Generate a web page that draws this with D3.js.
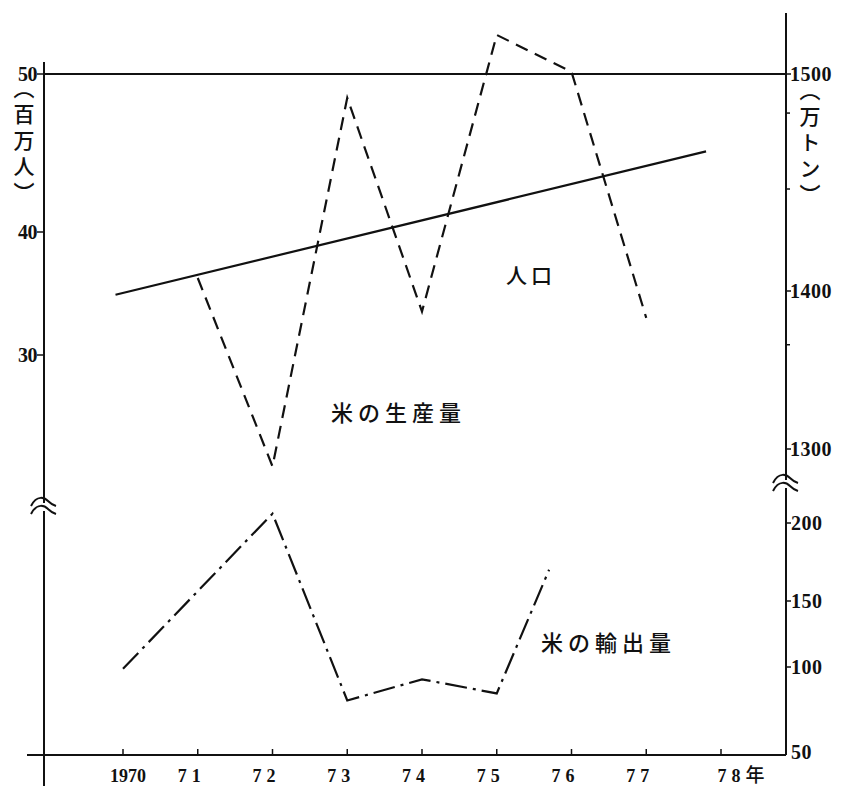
<!DOCTYPE html>
<html><head><meta charset="utf-8">
<script src="https://cdn.jsdelivr.net/npm/d3@7"></script>
<style>
body{margin:0;background:#fff;}
svg{display:block;}
.num{font-family:"Liberation Serif","DejaVu Serif",serif;font-weight:bold;fill:#111;}
.jp{font-family:"Noto Sans CJK JP",sans-serif;font-weight:500;fill:#111;}
</style></head>
<body>
<svg id="c" width="843" height="797"></svg>
<script>
// ---- data ----
const years = [1970,1971,1972,1973,1974,1975,1976,1977,1978];
const yearLabels = ["1970","71","72","73","74","75","76","77","78年"];
const popYears = [1969.9, 1977.8];
const popValues = [34.9, 45.1];             // 百万人
const prodYears = [1971,1972,1973,1974,1975,1976,1977];
const prodValues = [1406,1289,1489,1387,1518,1501,1383]; // 万トン
const expYears = [1970,1972,1973,1974,1975,1975.7];
const expValues = [99,206,81,93,85,170];     // 万トン
const leftTicks = [50,40,30];
const rightTopTicks = [1500,1400,1300];
const rightTopMinor = [1482,1447,1366];
const rightBottomTicks = [200,150,100,50];

const svg = d3.select("#c");
const black = "#111";

// scales (hand-drawn, non-uniform axes -> polylinear)
const x = d3.scaleLinear().domain([1970,1978]).range([123,721]);
const yPop = d3.scaleLinear().domain([30,40,50]).range([355,232,74]);
const yProd = d3.scaleLinear().domain([1300,1400,1500]).range([449,291,74]);
const yExp = d3.scaleLinear().domain([50,100,150,200]).range([755,667,601,523]);

const xL = 44, xR = 786, yTop = yPop(50), yBot = yExp(50);

// frame lines
svg.append("line").attr("x1",xL).attr("x2",xL).attr("y1",62).attr("y2",786)
  .attr("stroke",black).attr("stroke-width",2);
svg.append("line").attr("x1",xR).attr("x2",xR).attr("y1",13).attr("y2",yBot)
  .attr("stroke",black).attr("stroke-width",2);
svg.append("line").attr("x1",xL).attr("x2",xR).attr("y1",yTop).attr("y2",yTop)
  .attr("stroke",black).attr("stroke-width",2);
svg.append("line").attr("x1",27).attr("x2",xR).attr("y1",yBot).attr("y2",yBot)
  .attr("stroke",black).attr("stroke-width",2);

// bottom axis ticks & labels
const gx = svg.append("g");
gx.selectAll("line").data(years).join("line")
  .attr("x1",d=>x(d)).attr("x2",d=>x(d)).attr("y1",yBot).attr("y2",yBot-6)
  .attr("stroke",black).attr("stroke-width",1.5);
gx.selectAll("text").data(years).join("text")
  .attr("class","num")
  .attr("x",(d,i)=> i===0 ? x(d)+5 : (i===8 ? x(d)+20 : x(d)-6))
  .attr("y",782).attr("text-anchor","middle")
  .attr("font-size",18).attr("letter-spacing",(d,i)=>i===0?0:5)
  .each(function(d,i){
    const t = d3.select(this);
    const lab = yearLabels[i];
    if(lab.endsWith("年")){
      t.append("tspan").text(lab.slice(0,-1));
      t.append("tspan").attr("class","jp").attr("font-weight",400).attr("font-size",19).attr("letter-spacing",0).text("年");
    } else t.text(lab);
  });

// left ticks
const gl = svg.append("g");
gl.selectAll("line").data(leftTicks).join("line")
  .attr("x1",xL-7).attr("x2",xL).attr("y1",d=>yPop(d)).attr("y2",d=>yPop(d))
  .attr("stroke",black).attr("stroke-width",1.5);
gl.selectAll("text").data(leftTicks).join("text").attr("class","num")
  .attr("x",xL-7).attr("y",d=>yPop(d)).attr("dy","0.35em")
  .attr("text-anchor","end").attr("font-size",20).attr("letter-spacing",-0.5).text(d=>d);

// right ticks
const gr = svg.append("g");
gr.selectAll("line.maj").data(rightTopTicks).join("line").attr("class","maj")
  .attr("x1",xR).attr("x2",xR+5).attr("y1",d=>yProd(d)).attr("y2",d=>yProd(d))
  .attr("stroke",black).attr("stroke-width",1.5);
gr.selectAll("line.min").data(rightTopMinor).join("line").attr("class","min")
  .attr("x1",xR).attr("x2",xR+4).attr("y1",d=>yProd(d)).attr("y2",d=>yProd(d))
  .attr("stroke",black).attr("stroke-width",1.5);
gr.selectAll("text.t").data(rightTopTicks).join("text").attr("class","num t")
  .attr("x",xR+4).attr("y",d=>yProd(d)).attr("dy","0.35em")
  .attr("font-size",20).attr("letter-spacing",0.5).text(d=>d);
gr.selectAll("line.b").data(rightBottomTicks.slice(0,3)).join("line").attr("class","b")
  .attr("x1",xR).attr("x2",xR+5).attr("y1",d=>yExp(d)).attr("y2",d=>yExp(d))
  .attr("stroke",black).attr("stroke-width",1.5);
gr.selectAll("text.b").data(rightBottomTicks).join("text").attr("class","num b")
  .attr("x",xR+5).attr("y",d=>yExp(d)).attr("dy",d=>d===50?"0.2em":"0.35em")
  .attr("font-size",20).attr("letter-spacing",0.5).text(d=>d);

// axis unit labels (vertical)
svg.append("text").attr("class","jp").attr("x",24).attr("y",78)
  .attr("font-size",21).attr("letter-spacing",5)
  .style("writing-mode","vertical-rl").text("（百万人）");
svg.append("text").attr("class","jp").attr("x",810).attr("y",80)
  .attr("font-size",21).attr("letter-spacing",5)
  .style("writing-mode","vertical-rl").text("（万トン）");

// break marks
function brk(cx, cy){
  const g = svg.append("g").attr("transform",`translate(${cx},${cy})`);
  g.append("rect").attr("x",-4).attr("y",-4).attr("width",8).attr("height",8).attr("fill","#fff");
  [-4,4].forEach(o=>{
    g.append("path").attr("d",`M-13,${o+3} C-7,${o-9} 1,${o-5} 4,${o-2} S9,${o+2} 12,${o+3}`)
      .attr("fill","none").attr("stroke",black).attr("stroke-width",2);
  });
}
brk(xL, 507);
brk(xR, 484);

// series lines
const lineGen = (xs, ys, yS) => d3.line().x((d,i)=>x(xs[i])).y((d,i)=>yS(ys[i]))(ys);
svg.append("path").attr("d",lineGen(popYears,popValues,yPop))
  .attr("fill","none").attr("stroke",black).attr("stroke-width",2.2);
svg.append("path").attr("d",lineGen(prodYears,prodValues,yProd))
  .attr("fill","none").attr("stroke",black).attr("stroke-width",2.2)
  .attr("stroke-dasharray","13,8").attr("stroke-linejoin","miter");
svg.append("path").attr("d",lineGen(expYears,expValues,yExp))
  .attr("fill","none").attr("stroke",black).attr("stroke-width",2.2)
  .attr("stroke-dasharray","22,6,3,6");

// series labels
svg.append("text").attr("class","jp").attr("x",506).attr("y",276).attr("dy","0.35em")
  .attr("font-size",21).attr("letter-spacing",4).text("人口");
svg.append("text").attr("class","jp").attr("x",331).attr("y",413).attr("dy","0.35em")
  .attr("font-size",22).attr("letter-spacing",5).text("米の生産量");
svg.append("text").attr("class","jp").attr("x",541).attr("y",643).attr("dy","0.35em")
  .attr("font-size",22).attr("letter-spacing",5).text("米の輸出量");
</script>
</body></html>
